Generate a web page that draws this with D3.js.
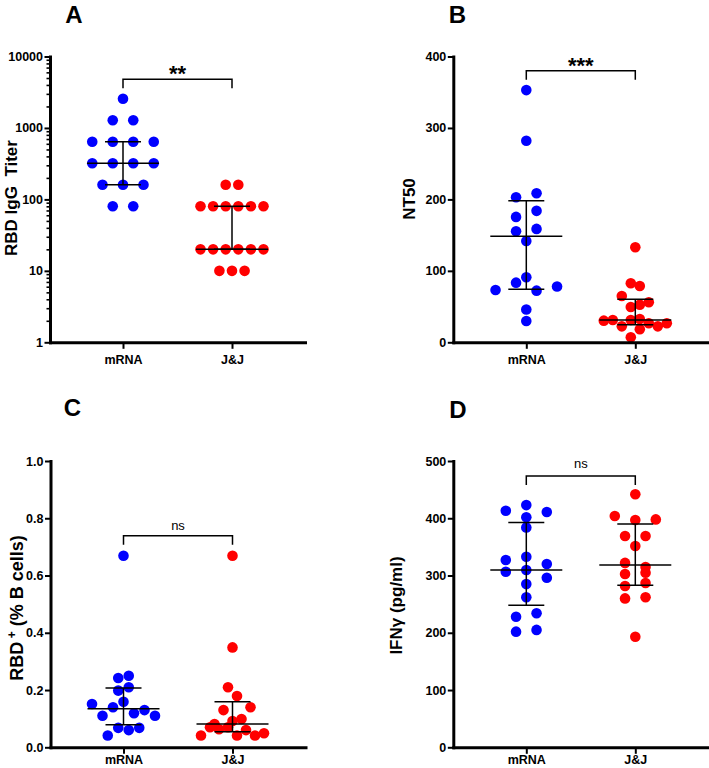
<!DOCTYPE html>
<html><head><meta charset="utf-8">
<script src="https://cdn.jsdelivr.net/npm/d3@7"></script>
<style>body{margin:0;background:#fff}svg{display:block}</style>
</head><body>
<svg id="c" width="709" height="768"></svg>
<script>
// ---------- data ----------
const categories = ["mRNA", "J&J"];
const seriesColors = ["#0000ff", "#ff0000"];

// A: RBD IgG titer (log)
const igg_mRNA = [2560, 1280, 1280, 640, 640, 640, 640, 320, 320, 320, 320, 160, 160, 160, 80, 80];
const igg_JJ   = [160, 160, 80, 80, 80, 80, 80, 80, 20, 20, 20, 20, 20, 20, 10, 10, 10];
// B: NT50
const nt50_mRNA = [353, 282, 203, 208.6, 175.5, 184, 155.4, 158.7, 141.8, 91, 73.2, 83.5, 72.3, 78, 46, 29.8];
const nt50_JJ   = [133, 82.6, 78.8, 64.8, 49.4, 52.7, 56, 30.3, 31.2, 22.3, 31.2, 32.6, 26.6, 22.3, 26.6, 7, 18.2];
// C: RBD+ (% B cells)
const bcell_mRNA = [0.669, 0.242, 0.250, 0.198, 0.210, 0.151, 0.110, 0.140, 0.159, 0.119, 0.130, 0.110, 0.041, 0.068, 0.060, 0.068];
const bcell_JJ   = [0.669, 0.349, 0.210, 0.179, 0.081, 0.130, 0.092, 0.099, 0.140, 0.041, 0.070, 0.063, 0.070, 0.041, 0.060, 0.041, 0.049];
// D: IFNγ (pg/ml)
const ifng_mRNA = [413, 423, 411, 401.6, 384, 327, 332.8, 320, 306.6, 309.6, 296, 285, 262, 228, 234, 202, 205];
const ifng_JJ   = [442, 404, 397, 398, 369, 369, 351.5, 322, 315, 302.6, 305, 281.6, 287, 260, 262, 193];

// tick values
const ticksA = [1, 10, 100, 1000, 10000];
const ticksB = [0, 100, 200, 300, 400];
const ticksC = [0, 0.2, 0.4, 0.6, 0.8, 1.0];
const ticksD = [0, 100, 200, 300, 400, 500];

const panelLetters = ["A", "B", "C", "D"];
const sigLabels = ["**", "***", "ns", "ns"];

// ---------- helpers ----------
const FONT = "'Liberation Sans', Arial, Helvetica, sans-serif";
const svg = d3.select("#c");

function quant(sorted, p) {
  const n = sorted.length;
  let pos = p * (n + 1);
  if (pos < 1) pos = 1;
  if (pos > n) pos = n;
  const lo = Math.floor(pos), f = pos - lo;
  if (lo >= n) return sorted[n - 1];
  return sorted[lo - 1] + f * (sorted[lo] - sorted[lo - 1]);
}

// row-based scatter spreading (points in the same value bin are spread symmetrically)
function spread(values, binOf, width, maxStep) {
  const rows = new Map();
  values.forEach((v, i) => {
    const b = binOf(v);
    if (!rows.has(b)) rows.set(b, []);
    rows.get(b).push(i);
  });
  const maxN = d3.max([...rows.values()], r => r.length);
  const step = maxN > 1 ? Math.min(maxStep, width / (maxN - 1)) : 0;
  const off = new Array(values.length);
  rows.forEach(r => r.forEach((idx, k) => { off[idx] = (k - (r.length - 1) / 2) * step; }));
  return off;
}

function panel(cfg) {
  const g = svg.append("g");
  const y = cfg.log
    ? d3.scaleLog().domain([ticksA[0], ticksA[ticksA.length - 1]]).range([cfg.yBot, cfg.yTop])
    : d3.scaleLinear().domain([cfg.ticks[0], cfg.ticks[cfg.ticks.length - 1]]).range([cfg.yBot, cfg.yTop]);
  const x = d3.scalePoint().domain(categories).range([cfg.axisX, cfg.axisX + 255]).padding(73 / 109);

  // dots
  cfg.series.forEach((vals, si) => {
    const cx = x(categories[si]);
    const off = spread(vals, cfg.binOf, 63, 20.5);
    g.append("g").selectAll("circle").data(vals).join("circle")
      .attr("cx", (d, i) => cx + off[i])
      .attr("cy", d => y(d))
      .attr("r", 5.3)
      .attr("fill", seriesColors[si]);
  });

  // median + IQR
  cfg.series.forEach((vals, si) => {
    const cx = x(categories[si]);
    const s = vals.slice().sort((a, b) => a - b);
    const med = quant(s, 0.5), q1 = quant(s, 0.25), q3 = quant(s, 0.75);
    const lg = g.append("g").attr("stroke", "#000").attr("stroke-width", 1.5).attr("fill", "none");
    lg.append("line").attr("x1", cx - 36).attr("x2", cx + 36).attr("y1", y(med)).attr("y2", y(med));
    lg.append("line").attr("x1", cx - 18).attr("x2", cx + 18).attr("y1", y(q1)).attr("y2", y(q1));
    lg.append("line").attr("x1", cx - 18).attr("x2", cx + 18).attr("y1", y(q3)).attr("y2", y(q3));
    lg.append("line").attr("x1", cx).attr("x2", cx).attr("y1", y(q1)).attr("y2", y(q3));
  });

  // y axis
  const yAxis = d3.axisLeft(y).tickValues(cfg.ticks).tickFormat(cfg.fmt)
    .tickSize(5.5).tickSizeOuter(0).tickPadding(1.5);
  const ya = g.append("g").attr("transform", `translate(${cfg.axisX},0)`).call(yAxis);
  if (cfg.log) {
    const minors = [];
    for (let e = 0; e < 4; e++) for (let k = 2; k <= 9; k++) minors.push(k * Math.pow(10, e));
    g.append("g").attr("transform", `translate(${cfg.axisX},0)`)
      .call(d3.axisLeft(y).tickValues(minors).tickFormat("").tickSize(3.5).tickSizeOuter(0))
      .call(a => a.select(".domain").remove())
      .selectAll("line").attr("stroke", "#000").attr("stroke-width", 1.6);
  }
  // x axis
  const xAxis = d3.axisBottom(x).tickSize(6.5).tickSizeOuter(0).tickPadding(cfg.xPad);
  const xa = g.append("g").attr("transform", `translate(0,${cfg.yBot})`).call(xAxis);

  [ya, xa].forEach(a => {
    a.select(".domain").attr("stroke", "#000").attr("stroke-width", 3).attr("stroke-linecap", "square");
    a.selectAll(".tick line").attr("stroke", "#000").attr("stroke-width", 2);
    a.selectAll("text").attr("fill", "#000").style("font-family", FONT)
      .style("font-weight", "bold").style("font-size", "12.5px");
  });

  // significance bracket
  const x1 = x(categories[0]), x2 = x(categories[1]);
  g.append("path")
    .attr("d", `M${x1},${cfg.brY + 9}V${cfg.brY}H${x2}V${cfg.brY + 9}`)
    .attr("fill", "none").attr("stroke", "#000").attr("stroke-width", 1.5);
  const star = cfg.sig.indexOf("*") >= 0;
  g.append("text").attr("x", (x1 + x2) / 2).attr("y", star ? cfg.brY + 2 : cfg.sigY)
    .attr("text-anchor", "middle").style("font-family", FONT)
    .style("font-weight", star ? "bold" : "normal").style("font-size", star ? "22px" : "13px")
    .text(cfg.sig);

  // panel letter
  g.append("text").attr("x", cfg.letterX).attr("y", cfg.letterY).attr("text-anchor", "middle")
    .style("font-family", FONT).style("font-weight", "bold").style("font-size", "24px").text(cfg.letter);

  // y title
  const t = g.append("text").attr("transform", `translate(${cfg.titleX},${cfg.titleY}) rotate(-90)`)
    .attr("text-anchor", "middle").style("font-family", FONT).style("font-weight", "bold")
    .style("font-size", cfg.titleSize + "px").style("white-space", "pre");
  cfg.title(t);
}

panel({
  letter: panelLetters[0], letterX: 74, letterY: 22.5,
  axisX: 50, yTop: 56.5, yBot: 342.3, log: true, ticks: ticksA, fmt: d3.format("d"),
  series: [igg_mRNA, igg_JJ], binOf: v => Math.floor(Math.log10(v) / 0.2178),
  xPad: 6.5, brY: 79.3, sig: sigLabels[0],
  titleX: 16.5, titleY: 198, titleSize: 17, title: t => t.text("RBD IgG  Titer")
});
panel({
  letter: panelLetters[1], letterX: 457.5, letterY: 22.5,
  axisX: 453.3, yTop: 56.5, yBot: 342.3, log: false, ticks: ticksB, fmt: d3.format("d"),
  series: [nt50_mRNA, nt50_JJ], binOf: v => Math.floor(v / 21.8),
  xPad: 6.5, brY: 70.7, sig: sigLabels[1],
  titleX: 415, titleY: 199, titleSize: 17, title: t => t.text("NT50")
});
panel({
  letter: panelLetters[2], letterX: 72.5, letterY: 415.5,
  axisX: 50.5, yTop: 461, yBot: 747.3, log: false, ticks: ticksC, fmt: d3.format(".1f"),
  series: [bcell_mRNA, bcell_JJ], binOf: v => Math.floor(v / 0.08),
  xPad: 1.8, brY: 535.7, sig: sigLabels[2], sigY: 529.5,
  titleX: 22.5, titleY: 608, titleSize: 18,
  title: t => {
    t.append("tspan").text("RBD");
    t.append("tspan").attr("dy", -7).style("font-size", "12px").text(" +");
    t.append("tspan").attr("dy", 7).text(" (% B cells)");
  }
});
panel({
  letter: panelLetters[3], letterX: 458, letterY: 418,
  axisX: 453.3, yTop: 461, yBot: 747.3, log: false, ticks: ticksD, fmt: d3.format("d"),
  series: [ifng_mRNA, ifng_JJ], binOf: v => Math.floor(v / 24.06),
  xPad: 1.8, brY: 476, sig: sigLabels[3], sigY: 467.5,
  titleX: 401.5, titleY: 605.5, titleSize: 17, title: t => t.text("IFNγ (pg/ml)")
});
</script>
</body></html>
